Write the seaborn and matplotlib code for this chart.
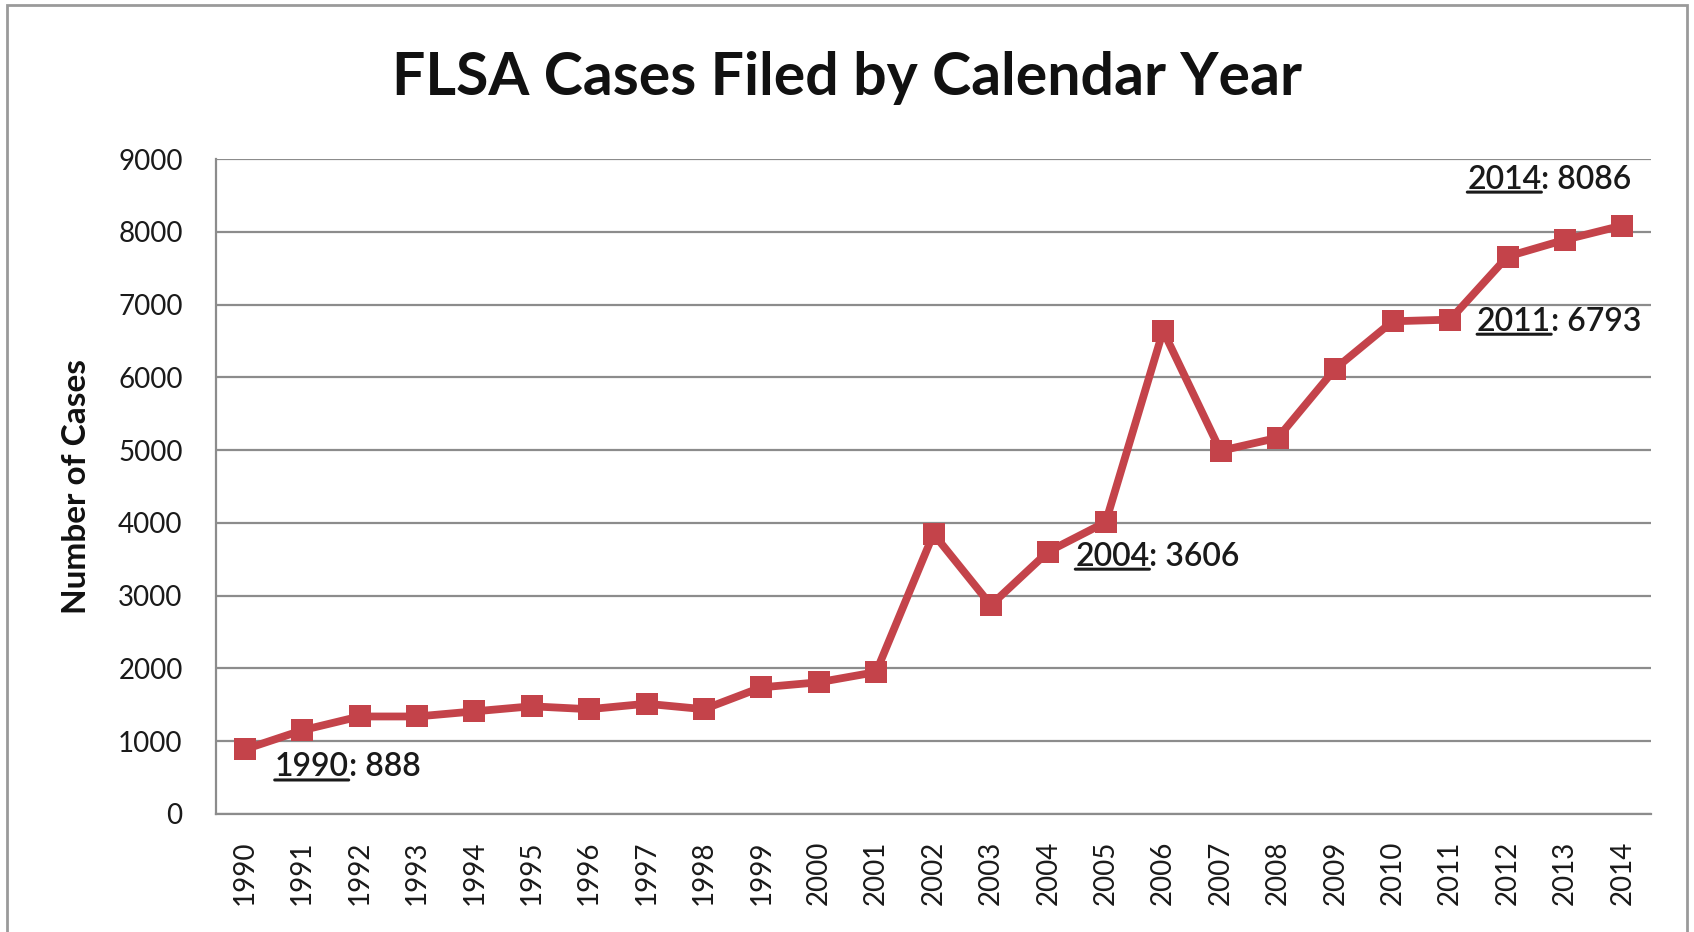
import matplotlib
matplotlib.use('Agg')
import matplotlib.pyplot as plt
from matplotlib.patches import Rectangle
import seaborn as sns
import pandas as pd

# data
years = [str(y) for y in range(1990, 2015)]
cases = [888, 1150, 1340, 1340, 1410, 1480, 1440, 1515, 1440, 1740, 1810, 1950,
         3850, 2870, 3606, 4010, 6640, 4990, 5170, 6120, 6770, 6793, 7660, 7890, 8086]
yticks = list(range(0, 9001, 1000))

# labelled points and where their labels sit (offset in pixels from the point)
label_years = ['1990', '2004', '2011', '2014']
label_offsets = [(30, -18), (27, -5), (27, -2), (-155, 46)]

df = pd.DataFrame({'year': years, 'cases': cases})

sns.set_style('white')
plt.rcParams['font.family'] = ['Lato', 'DejaVu Sans']

W, H = 1694, 932
fig = plt.figure(figsize=(W / 100, H / 100), dpi=100)
ax = fig.add_axes([216 / W, 1 - 814 / H, (1651 - 216) / W, (814 - 159) / H])

line_col = '#c4434a'
grid_col = '#8c8c8c'

sns.pointplot(data=df, x='year', y='cases', color=line_col, markers='s',
              markersize=16, linewidth=5.6, ax=ax)
for l in ax.lines:
    l.set_markeredgewidth(0)

ax.set_ylim(0, 9000)
ax.set_yticks(yticks)
ax.set_xlim(-0.5, len(years) - 0.5)
ax.yaxis.grid(True, color=grid_col, linewidth=1.6)
ax.xaxis.grid(False)
ax.set_axisbelow(True)
for s in ['top', 'right']:
    ax.spines[s].set_visible(False)
for s in ['left', 'bottom']:
    ax.spines[s].set_color(grid_col)
    ax.spines[s].set_linewidth(1.6)
ax.set_xlabel('')
ax.set_ylabel('')
ax.tick_params(axis='y', labelsize=20, pad=24, length=0, colors='#1a1a1a')
ax.tick_params(axis='x', labelsize=20, pad=19, length=0, rotation=90, colors='#1a1a1a')

# title and y label
fig.text(0.5, 1 - 78 / H, 'FLSA Cases Filed by Calendar Year', ha='center', va='center',
         fontsize=42.5, fontweight='bold', color='#111111')
fig.text(77 / W, 1 - 487 / H, 'Number of Cases', rotation=90, ha='center', va='center',
         fontsize=24, fontweight='bold', color='#111111')

# point labels with underlined year
for yr, (dx, dy) in zip(label_years, label_offsets):
    i = years.index(yr)
    v = cases[i]
    t1 = ax.annotate(yr, xy=(i, v), xytext=(dx, dy), textcoords='offset pixels',
                     ha='left', va='center', fontsize=23, fontweight='semibold',
                     color='#1a1a1a')
    ax.annotate(': %d' % v, xy=(1, 0.5), xycoords=t1, ha='left', va='center',
                fontsize=23, fontweight='semibold', color='#1a1a1a')
    ax.annotate('', xy=(0, 0.08), xycoords=t1, xytext=(1, 0.08), textcoords=t1,
                arrowprops=dict(arrowstyle='-', lw=2.2, color='#1a1a1a',
                                shrinkA=0, shrinkB=0))

# chart border
fig.patches.append(Rectangle((7 / W, -0.05), (1687 - 7) / W, 1.05 - 5 / H,
                             transform=fig.transFigure, fill=False,
                             edgecolor='#9a9a9a', linewidth=2))

fig.savefig('out.png', dpi=100)
plt.close(fig)
